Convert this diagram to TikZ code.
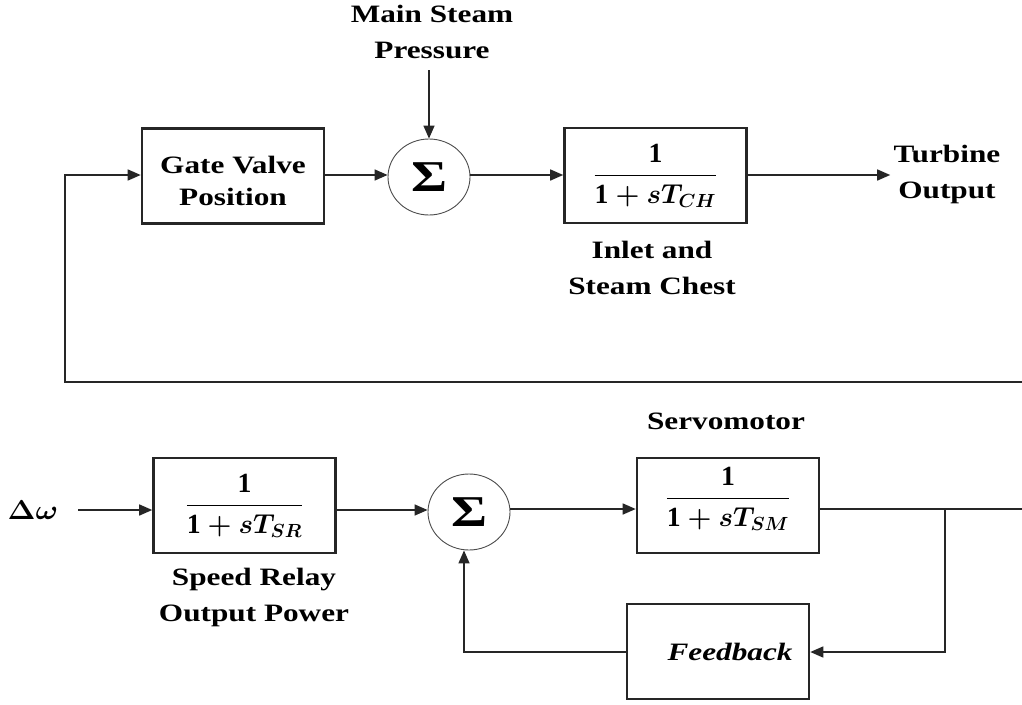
\documentclass[tikz,border=0pt]{standalone}
\usepackage{amsmath}
\usepackage{fontspec}
\setmainfont{Liberation Serif}[FakeStretch=1.25]
\newfontfamily\digfont{Liberation Serif}
\usetikzlibrary{arrows.meta,shapes.geometric}
\tikzset{
  blk/.style={draw=black!85,line width=2.6pt,minimum width=182pt,minimum height=95pt,inner sep=0pt},
  sumnode/.style={draw=black!70,line width=0.9pt,ellipse,minimum width=82pt,minimum height=76pt,inner sep=0pt,font=\fontsize{44}{44}\selectfont\bfseries},
  lbl/.style={align=center,font=\fontsize{25}{36}\selectfont\bfseries},
  conn/.style={draw=black!85,line width=1.5pt},
  arr/.style={conn,-{Triangle[length=13pt,width=11pt]}}
}
\newcommand{\bone}{\text{\digfont\bfseries 1}}
\newcommand{\tfn}[1]{\scalebox{1.32}[1.32]{\fontsize{21}{25}\selectfont\mathversion{bold}$\dfrac{\bone}{\bone+sT_{#1}}$}}
\newcommand{\dwsym}{\scalebox{1.2}[1.1]{\mathversion{bold}$\Delta\omega$}}
\begin{document}
\begin{tikzpicture}[x=1pt,y=-1pt]
\useasboundingbox[fill=white] (0,0) rectangle (1022,704);
% top loop
\node[lbl] (msp) at (432,32) {Main Steam\\Pressure};
\node[blk,font=\fontsize{25}{32}\selectfont\bfseries] (gv) at (233,176) {\raisebox{-7pt}[\height][\depth]{\begin{tabular}{@{}c@{}}Gate Valve\\Position\end{tabular}}};
\node[sumnode] (s1) at (429,177) {Σ};
\node[blk] (ch) at (655.5,175.5) {\tfn{CH}};
\node[lbl] (tout) at (947,174) {Turbine\\Output};
\node[lbl] (inl) at (652,268) {Inlet and\\Steam Chest};
\coordinate (fbtop) at (65,382);
\coordinate (fbend) at (1022,382);
\coordinate (gvin) at (65,175);
\coordinate (mspend) at (429,70);
\draw[arr] (mspend) -- (s1.north);
\draw[arr] (fbend) -- (fbtop) -- (gvin) -- (gv.west |- gvin);
\draw[arr] (gv.east |- gvin) -- (s1.west |- gvin);
\draw[arr] (s1.east |- gvin) -- (ch.west |- gvin);
\draw[arr] (ch.east |- gvin) -- (tout.west |- gvin);
% bottom loop
\node[font=\fontsize{25}{25}\selectfont] (dw) at (33,510) {\dwsym};
\node[blk] (sr) at (244.5,505.5) {\tfn{SR}};
\node[sumnode] (s2) at (469,512) {Σ};
\node[blk] (sm) at (728,505.5) {\raisebox{7pt}[\height][\depth]{\tfn{SM}}};
\node[blk,font=\fontsize{25}{25}\selectfont\bfseries\itshape] (fb) at (718,651.5) {\hspace*{24pt}Feedback};
\node[lbl] (servo) at (726,421) {Servomotor};
\node[lbl] (srl) at (254,597) {Speed Relay\\Output Power};
\coordinate (dwend) at (78,510);
\coordinate (br) at (945,509);
\coordinate (outend) at (1022,509);
\coordinate (fbin) at (945,652);
\coordinate (fbout) at (464,652);
\draw[arr] (dwend) -- (sr.west |- dwend);
\draw[arr] (sr.east |- dwend) -- (s2.west |- dwend);
\draw[arr] (s2.east |- br) -- (sm.west |- br);
\draw[conn] (sm.east |- br) -- (outend);
\draw[arr] (br) -- (fbin) -- (fb.east |- fbin);
\draw[arr] (fb.west |- fbout) -- (fbout) -- (fbout |- s2.south);
\end{tikzpicture}
\end{document}
